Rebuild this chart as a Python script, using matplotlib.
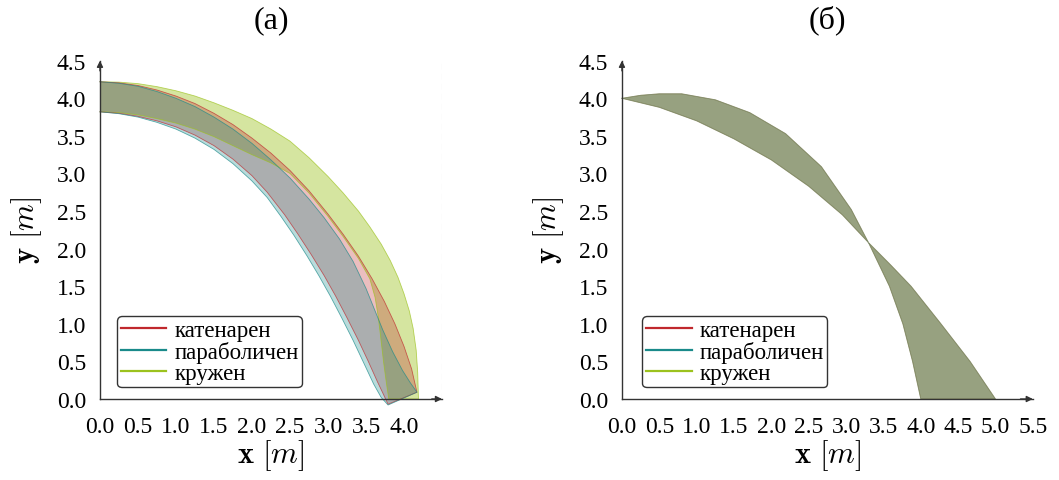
import numpy as np
import matplotlib.pyplot as plt
from matplotlib.lines import Line2D
from matplotlib.ticker import MultipleLocator

plt.rcParams['font.family'] = 'serif'
plt.rcParams['font.serif'] = ['Liberation Serif', 'DejaVu Serif']
plt.rcParams['mathtext.fontset'] = 'cm'

# (a) - три свода: външен и вътрешен контур
kat_out_x = [0, 0.25, 0.5, 0.75, 1.0, 1.25, 1.5, 1.75, 2.0, 2.25, 2.5, 2.75, 3.0, 3.2, 3.4, 3.58, 3.74, 3.88, 4.0, 4.1, 4.17]
kat_out_y = [4.22, 4.205, 4.17, 4.11, 4.03, 3.93, 3.80, 3.65, 3.47, 3.27, 3.04, 2.77, 2.46, 2.19, 1.90, 1.60, 1.30, 1.00, 0.70, 0.40, 0.09]
kat_in_x = [0, 0.25, 0.5, 0.75, 1.0, 1.25, 1.5, 1.75, 2.0, 2.2, 2.43, 2.6, 2.78, 2.95, 3.1, 3.25, 3.4, 3.53, 3.65, 3.73, 3.79]
kat_in_y = [3.82, 3.8, 3.76, 3.70, 3.62, 3.51, 3.37, 3.19, 2.97, 2.75, 2.45, 2.2, 1.92, 1.64, 1.37, 1.08, 0.78, 0.50, 0.23, 0.06, -0.07]

par_out_x = [0, 0.25, 0.5, 0.75, 1.0, 1.25, 1.5, 1.75, 2.0, 2.25, 2.5, 2.75, 2.95, 3.15, 3.33, 3.5, 3.62, 3.72, 3.85, 3.98, 4.08, 4.17]
par_out_y = [4.22, 4.2, 4.16, 4.09, 4.0, 3.89, 3.75, 3.59, 3.40, 3.18, 2.94, 2.66, 2.41, 2.13, 1.83, 1.47, 1.17, 0.92, 0.63, 0.38, 0.22, 0.09]
par_in_x = [0, 0.25, 0.5, 0.75, 1.0, 1.25, 1.5, 1.75, 2.0, 2.2, 2.38, 2.55, 2.72, 2.88, 3.03, 3.18, 3.33, 3.47, 3.6, 3.7, 3.79]
par_in_y = [3.82, 3.795, 3.75, 3.68, 3.59, 3.47, 3.32, 3.13, 2.90, 2.68, 2.43, 2.18, 1.91, 1.64, 1.37, 1.08, 0.78, 0.48, 0.2, 0.02, -0.08]

kr_out_x = [0, 0.25, 0.5, 0.75, 1.0, 1.25, 1.5, 1.75, 2.0, 2.25, 2.5, 2.75, 3.0, 3.2, 3.4, 3.55, 3.7, 3.82, 3.92, 4.0, 4.07, 4.12, 4.16, 4.18, 4.19]
kr_out_y = [4.22, 4.215, 4.195, 4.155, 4.10, 4.03, 3.94, 3.84, 3.73, 3.59, 3.43, 3.21, 2.96, 2.74, 2.50, 2.29, 2.06, 1.84, 1.62, 1.40, 1.17, 0.94, 0.65, 0.35, 0.0]
kr_in_x = [0, 0.25, 0.5, 0.75, 1.0, 1.25, 1.5, 1.75, 2.0, 2.25, 2.5, 2.75, 3.0, 3.2, 3.4, 3.55, 3.62, 3.66, 3.69, 3.73, 3.77, 3.8]
kr_in_y = [3.82, 3.81, 3.78, 3.73, 3.67, 3.59, 3.49, 3.37, 3.25, 3.14, 3.0, 2.74, 2.43, 2.16, 1.87, 1.60, 1.35, 1.10, 0.85, 0.5, 0.2, 0.0]

# (б) - контурите почти съвпадат
b_gor_x = [0, 0.25, 0.5, 0.8, 1.25, 1.71, 2.19, 2.67, 3.07, 3.30, 3.58, 3.76, 3.89, 4.0]
b_gor_y = [4.0, 4.04, 4.06, 4.06, 3.98, 3.81, 3.53, 3.09, 2.52, 2.08, 1.5, 1.0, 0.5, 0.0]
b_dol_x = [0, 0.5, 1.0, 1.5, 2.0, 2.5, 2.95, 3.3, 3.6, 3.87, 4.27, 4.66, 5.0]
b_dol_y = [4.0, 3.88, 3.70, 3.46, 3.18, 2.83, 2.45, 2.08, 1.78, 1.5, 1.0, 0.5, 0.0]

names = ['катенарен', 'параболичен', 'кружен']
colors = ['#c0282d', '#1a8a8a', '#9cc21e']


def band(ax, ox, oy, ix, iy, c, a, la):
    xs = np.r_[ox, ix[::-1]]
    ys = np.r_[oy, iy[::-1]]
    ax.fill(xs, ys, color=c, alpha=a, lw=0, clip_on=False, zorder=2)
    ax.plot(xs, ys, color=c, lw=0.6, alpha=la, clip_on=False, zorder=3)


def setup(ax, xmax, xlab_max):
    ax.set_xlim(0, xmax)
    ax.set_ylim(0, 4.5)
    xt = np.arange(0, xlab_max + 0.01, 0.5)
    yt = np.arange(0, 4.51, 0.5)
    ax.set_xticks(xt)
    ax.set_xticklabels(['%.1f' % v for v in xt])
    ax.set_yticks(yt)
    ax.set_yticklabels(['%.1f' % v for v in yt])
    ax.xaxis.set_minor_locator(MultipleLocator(0.5))
    ax.yaxis.set_minor_locator(MultipleLocator(0.5))
    ax.grid(which='minor', color='#cccccc', ls=(0, (5, 4)), lw=0.8, zorder=0)
    ax.tick_params(which='both', length=0, labelsize=17)
    ax.tick_params(axis='x', pad=12)
    ax.tick_params(axis='y', pad=10)
    for s in ['top', 'right']:
        ax.spines[s].set_visible(False)
    for s in ['left', 'bottom']:
        ax.spines[s].set_color('#333333')
        ax.spines[s].set_linewidth(1.0)
        ax.spines[s].set_zorder(5)
    arr = dict(arrowstyle='-|>', color='#333333', lw=1.0, mutation_scale=9, shrinkA=0, shrinkB=0)
    ax.annotate('', xy=(1.0, 0), xytext=(0.97, 0), xycoords='axes fraction', arrowprops=arr, annotation_clip=False)
    ax.annotate('', xy=(0, 1.0), xytext=(0, 0.97), xycoords='axes fraction', arrowprops=arr, annotation_clip=False)
    ax.set_xlabel(r'$\mathbf{x}\ [m]$', fontsize=22, labelpad=0)
    ax.set_ylabel(r'$\mathbf{y}\ [m]$', fontsize=22, labelpad=9)
    handles = [Line2D([], [], color=c, lw=1.6) for c in colors]
    ax.legend(handles, names, loc='lower left', bbox_to_anchor=(0.05, 0.035), fontsize=16.5,
              frameon=True, fancybox=True, edgecolor='#333333', framealpha=1,
              handlelength=2.0, handletextpad=0.35, labelspacing=0.0, borderpad=0.15,
              borderaxespad=0)


fig = plt.figure(figsize=(10.59, 4.81), dpi=100)
ax1 = fig.add_axes([0.0944, 0.1684, 0.323, 0.7033])
ax2 = fig.add_axes([0.5873, 0.1684, 0.388, 0.7033])

band(ax1, kr_out_x, kr_out_y, kr_in_x, kr_in_y, colors[2], 0.42, 0.7)
band(ax1, kat_out_x, kat_out_y, kat_in_x, kat_in_y, colors[0], 0.3, 0.7)
band(ax1, par_out_x, par_out_y, par_in_x, par_in_y, colors[1], 0.3, 0.7)
setup(ax1, 4.5, 4.0)
ax1.set_title('(a)', fontsize=23, pad=24)

band(ax2, b_gor_x, b_gor_y, b_dol_x, b_dol_y, colors[2], 0.42, 0.35)
band(ax2, b_gor_x, b_gor_y, b_dol_x, b_dol_y, colors[0], 0.3, 0.35)
band(ax2, b_gor_x, b_gor_y, b_dol_x, b_dol_y, colors[1], 0.3, 0.35)
setup(ax2, 5.5, 5.5)
ax2.set_title('(б)', fontsize=23, pad=24)

fig.savefig('out.png', dpi=100)
